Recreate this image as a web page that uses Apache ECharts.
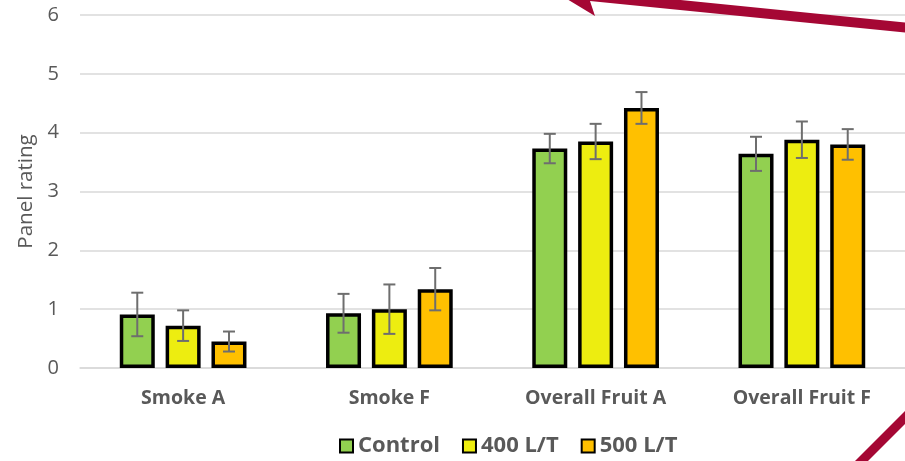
<!DOCTYPE html>
<html>
<head>
<meta charset="utf-8">
<script src="https://cdn.jsdelivr.net/npm/echarts@6/dist/echarts.min.js"></script>
<style>html,body{margin:0;padding:0;background:#fff}#c{width:905px;height:461px}</style>
</head>
<body>
<div id="c"></div>
<script>
const categories = ['Smoke A', 'Smoke F', 'Overall Fruit A', 'Overall Fruit F'];
const seriesNames = ['Control', '400 L/T', '500 L/T'];
const controlValues = [0.91, 0.93, 3.73, 3.64];
const l400Values = [0.72, 1.00, 3.85, 3.88];
const l500Values = [0.45, 1.34, 4.42, 3.80];
const controlErr = [0.37, 0.33, 0.25, 0.29];
const l400Err = [0.26, 0.42, 0.30, 0.31];
const l500Err = [0.17, 0.36, 0.27, 0.26];
const yTicks = [0, 1, 2, 3, 4, 5, 6];

const colors = ['#92D050', '#EDED10', '#FFC000'];
const FONT = 'Open Sans';
const BAR_W = 35, BAR_GAP = 0.31;

const values = [controlValues, l400Values, l500Values];
const errs = [controlErr, l400Err, l500Err];

const chart = echarts.init(document.getElementById('c'), null, {renderer: 'canvas'});

const barSeries = seriesNames.map((n, i) => ({
  name: n, type: 'bar', data: values[i],
  barWidth: BAR_W, barGap: (BAR_GAP * 100) + '%',
  itemStyle: {color: colors[i], borderColor: '#000', borderWidth: 3.5},
  emphasis: {disabled: true}, z: 2
}));

const errData = [];
for (let s = 0; s < 3; s++) {
  for (let c = 0; c < categories.length; c++) {
    errData.push([c, values[s][c] - errs[s][c], values[s][c] + errs[s][c], s]);
  }
}

const errSeries = {
  type: 'custom', name: 'err', data: errData, z: 5,
  encode: {x: 0, y: [1, 2]},
  renderItem: function (params, api) {
    const c = api.value(0), lo = api.value(1), hi = api.value(2), s = api.value(3);
    const off = (s - 1) * BAR_W * (1 + BAR_GAP);
    const p1 = api.coord([c, hi]);
    const p2 = api.coord([c, lo]);
    const x = p1[0] + off;
    const cap = 6;
    const st = {stroke: '#6e6e6e', lineWidth: 2};
    return {type: 'group', children: [
      {type: 'line', shape: {x1: x, y1: p1[1], x2: x, y2: p2[1]}, style: st},
      {type: 'line', shape: {x1: x - cap, y1: p1[1], x2: x + cap, y2: p1[1]}, style: st},
      {type: 'line', shape: {x1: x - cap, y1: p2[1], x2: x + cap, y2: p2[1]}, style: st}
    ]};
  }
};

const arrowColor = '#A50734';

chart.setOption({
  animation: false,
  textStyle: {fontFamily: FONT},
  grid: {left: 80, right: 0, top: 15, bottom: 93, containLabel: false},
  legend: {
    data: seriesNames, left: 334, top: 430, icon: 'rect',
    itemWidth: 13, itemHeight: 13, itemGap: 22,
    itemStyle: {borderColor: '#000', borderWidth: 2},
    textStyle: {fontFamily: FONT, fontSize: 22, fontWeight: 'bold', color: '#595959', padding: [0, 0, 0, 0]}
  },
  xAxis: {
    type: 'category', data: categories,
    axisLine: {lineStyle: {color: '#d9d9d9', width: 1.5}},
    axisTick: {show: false},
    axisLabel: {fontFamily: FONT, fontSize: 19.5, fontWeight: 'bold', color: '#595959', margin: 20}
  },
  yAxis: {
    type: 'value', min: yTicks[0], max: yTicks[yTicks.length - 1], interval: 1,
    name: 'Panel rating', nameLocation: 'middle', nameGap: 43,
    nameTextStyle: {fontFamily: FONT, fontSize: 20.5, color: '#595959'},
    axisLine: {show: false}, axisTick: {show: false},
    splitLine: {lineStyle: {color: '#d9d9d9', width: 1.5}},
    axisLabel: {fontFamily: FONT, fontSize: 20, color: '#595959', margin: 21}
  },
  series: [...barSeries, errSeries],
  graphic: [
    {type: 'polygon', z: 100, shape: {points: [[910, 23], [910, 33], [590, 1], [595, 16], [557, -7], [600, -21], [591, -9]]},
     style: {fill: arrowColor}},
    {type: 'polygon', z: 100, shape: {points: [[854, 462], [867, 462], [906, 423], [906, 410]]},
     style: {fill: arrowColor}}
  ]
});
</script>
</body>
</html>
